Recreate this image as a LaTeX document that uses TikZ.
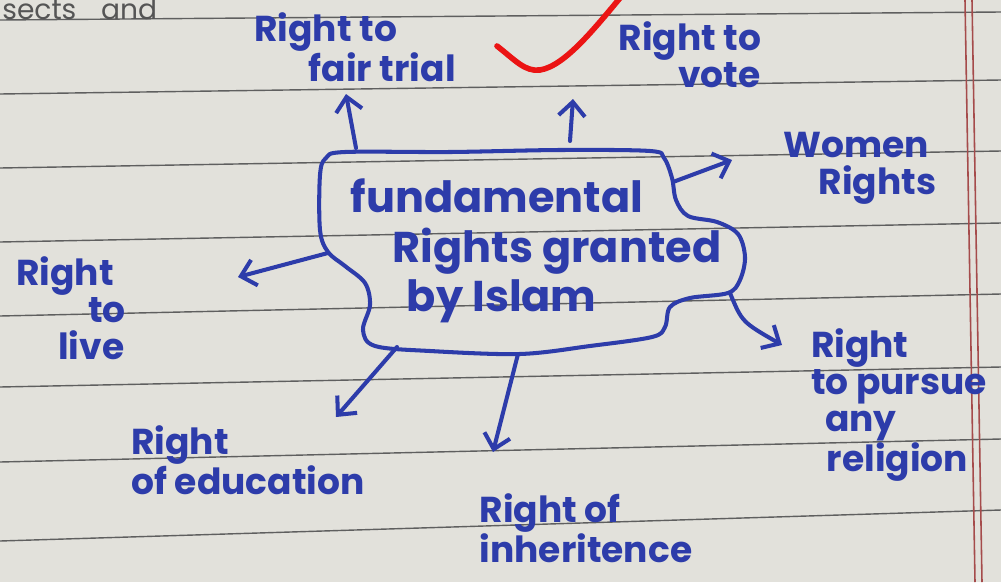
\documentclass[tikz,border=0pt]{standalone}
\usepackage{fontspec}
\setmainfont{Poppins}
\usetikzlibrary{arrows.meta}

\definecolor{paper}{RGB}{226,225,219}
\definecolor{ink}{RGB}{45,60,170}
\definecolor{ruling}{RGB}{95,95,95}
\definecolor{margin}{RGB}{165,75,75}
\definecolor{pencil}{RGB}{85,85,85}
\definecolor{tick}{RGB}{235,20,20}

\begin{document}
\begin{tikzpicture}[x=0.02cm, y=-0.02cm,
	every node/.style={font=\bfseries\fontsize{20.5}{21}\selectfont, text=ink, inner sep=0pt, align=left},
	pen/.style={draw=ink, line width=2.3pt, line cap=round, line join=round},
	arr/.style={pen, -{Straight Barb[length=8pt, width=15pt, line width=2.3pt]}}]
	\useasboundingbox (0,0) rectangle (1001,582);
	\fill[paper] (0,0) rectangle (1001,582);
	% ruled lines and margin
	\foreach \l/\r in {20/12, 94/80, 168/151, 242/223, 316/294, 387/367, 462/439, 541/510}
		\draw[ruling, line width=0.8pt] (0,\l) -- (1001,\r);
	\draw[margin, line width=0.9pt] (965,0) -- (975,582);
	\draw[margin, line width=0.9pt] (972,0) -- (982,582);
	\node[font=\normalfont\fontsize{16}{16}\selectfont, text=pencil, anchor=base west] (prev) at (2,19) {sects\hspace{14pt}and};
	% centre
	\draw[pen] plot[smooth cycle, tension=0.55] coordinates {(320,175) (326,158) (345,152) (450,152) (560,150) (650,151) (664,158) (672,178) (676,200) (688,216) (717,222) (738,234) (745,257) (740,280) (728,293) (690,298) (670,307) (665,327) (652,337) (590,346) (520,354) (430,351) (375,346) (363,330) (370,305) (365,283) (345,266) (328,252) (320,230)};
	\node[font=\bfseries\fontsize{24.5}{28}\selectfont] (centre) at (536,251) {fundamental\\\hspace*{24pt}Rights granted\\\hspace*{32pt}by Islam};
	% rights
	\node (fair) at (355,47) {Right to\\\hspace*{31pt}fair trial};
	\node (vote) at (690,55) {Right to\\\hspace*{34pt}vote};
	\node (women) at (860,168) {Women\\\hspace*{20pt}Rights};
	\node (live) at (71,308) {Right\\\hspace*{41pt}to\\\hspace*{24pt}live};
	\node (religion) at (899,405) {Right\\to pursue\\\hspace*{8pt}any\\\hspace*{9pt}religion};
	\node (education) at (248,460) {Right\\of education};
	\node (inherit) at (586,528) {Right of\\inheritence};
	% arrows
	\coordinate (fairFoot) at (356,148);
	\coordinate (fairTip) at (346,94);
	\coordinate (voteFoot) at (570,141);
	\coordinate (voteTip) at (573,99);
	\coordinate (womenFoot) at (673,182);
	\coordinate (womenTip) at (732,160);
	\coordinate (liveFoot) at (328,253);
	\coordinate (liveTip) at (238,277);
	\coordinate (eduFoot) at (397,347);
	\coordinate (eduTip) at (336,417);
	\coordinate (inhFoot) at (518,354);
	\coordinate (inhTip) at (493,452);
	\coordinate (relFoot) at (730,293);
	\coordinate (relTip) at (782,345);
	\draw[arr] (fairFoot) -- (fairTip);
	\draw[arr] (voteFoot) -- (voteTip);
	\draw[arr] (womenFoot) -- (womenTip);
	\draw[arr] (liveFoot) -- (liveTip);
	\draw[arr] (eduFoot) -- (eduTip);
	\draw[arr] (inhFoot) -- (inhTip);
	\draw[arr] (relFoot) .. controls (742,322) .. (relTip);
	% teacher's tick
	\draw[tick, line width=3.2pt, line cap=round] (497,46) .. controls (515,60) and (525,72) .. (540,70) .. controls (565,66) and (595,28) .. (625,-8);
\end{tikzpicture}
\end{document}
